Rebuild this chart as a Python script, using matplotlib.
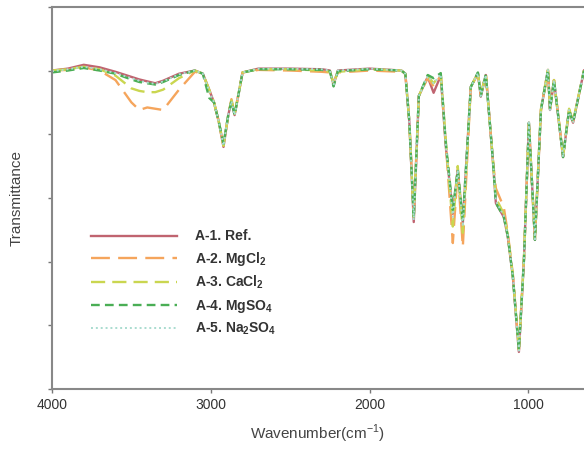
import matplotlib
matplotlib.use('Agg')
import matplotlib.pyplot as plt

plt.rcParams['font.family'] = ['Liberation Sans', 'DejaVu Sans']
plt.rcParams['mathtext.fontset'] = 'custom'
plt.rcParams['mathtext.rm'] = 'Liberation Sans'
plt.rcParams['mathtext.bf'] = 'Liberation Sans:bold'

# wavenumbers (cm-1)
wn = [4000, 3900, 3800, 3700, 3600, 3500, 3450, 3400, 3350, 3300, 3200, 3100,
      3050, 3010, 2980, 2950, 2920, 2890, 2870, 2850, 2820, 2800, 2700, 2500,
      2300, 2250, 2227, 2200, 2000, 1800, 1775, 1750, 1722, 1690, 1634, 1597,
      1552, 1520, 1476, 1445, 1413, 1363, 1318, 1300, 1268, 1224, 1205, 1155,
      1130, 1098, 1060, 1028, 997, 959, 921, 877, 864, 839, 782, 744, 719, 650]

ref = [5.0, 5.03, 5.09, 5.05, 4.98, 4.9, 4.86, 4.83, 4.8, 4.84, 4.95, 5.0,
       4.95, 4.7, 4.5, 4.2, 3.8, 4.3, 4.52, 4.3, 4.7, 4.97, 5.03, 5.03,
       5.02, 5.0, 4.78, 5.0, 5.03, 5.0, 4.95, 4.2, 2.62, 4.6, 4.9, 4.65,
       4.92, 3.8, 2.75, 3.44, 2.6, 4.74, 4.96, 4.59, 4.93, 3.6, 2.92, 2.7,
       2.39, 1.76, 0.58, 2.03, 4.18, 2.34, 4.38, 5.01, 4.38, 4.85, 3.64, 4.38, 4.18, 5.0]

mgcl2 = [5.0, 5.01, 5.05, 5.0, 4.85, 4.5, 4.38, 4.42, 4.4, 4.38, 4.7, 4.98,
         4.95, 4.68, 4.5, 4.2, 3.82, 4.3, 4.55, 4.32, 4.7, 4.97, 5.01, 5.0,
         4.98, 4.97, 4.8, 4.97, 5.0, 4.98, 4.95, 4.2, 2.75, 4.6, 4.88, 4.75,
         4.92, 3.85, 2.29, 3.44, 2.23, 4.74, 4.95, 4.62, 4.95, 3.6, 3.15, 2.85,
         2.45, 1.8, 0.62, 2.05, 4.15, 2.34, 4.38, 5.0, 4.4, 4.85, 3.66, 4.38, 4.2, 5.0]

cacl2 = [5.0, 5.02, 5.06, 5.02, 4.92, 4.72, 4.68, 4.66, 4.66, 4.7, 4.88, 5.0,
         4.95, 4.7, 4.5, 4.2, 3.82, 4.3, 4.53, 4.32, 4.7, 4.97, 5.02, 5.02,
         5.0, 4.98, 4.8, 4.98, 5.02, 5.0, 4.95, 4.2, 2.7, 4.6, 4.92, 4.8,
         4.95, 3.9, 2.55, 3.5, 2.45, 4.74, 4.97, 4.62, 4.94, 3.6, 3.0, 2.75,
         2.42, 1.78, 0.62, 2.05, 4.18, 2.36, 4.4, 5.01, 4.4, 4.85, 3.65, 4.4, 4.2, 5.0]

mgso4 = [4.97, 5.0, 5.04, 5.0, 4.95, 4.86, 4.82, 4.8, 4.78, 4.82, 4.93, 5.0,
         4.95, 4.57, 4.5, 4.2, 3.85, 4.3, 4.52, 4.3, 4.7, 4.97, 5.02, 5.02,
         5.01, 4.99, 4.75, 4.99, 5.02, 5.0, 4.95, 4.2, 2.68, 4.6, 4.93, 4.88,
         4.96, 3.85, 2.81, 3.44, 2.65, 4.74, 4.97, 4.6, 4.94, 3.6, 2.92, 2.7,
         2.4, 1.76, 0.6, 2.03, 4.18, 2.34, 4.38, 5.01, 4.38, 4.85, 3.64, 4.38, 4.18, 5.0]

na2so4 = [4.99, 5.02, 5.06, 5.02, 4.96, 4.88, 4.84, 4.81, 4.79, 4.83, 4.94, 5.0,
          4.95, 4.68, 4.5, 4.2, 3.82, 4.3, 4.52, 4.3, 4.7, 4.97, 5.03, 5.03,
          5.02, 5.0, 4.77, 5.0, 5.03, 5.0, 4.95, 4.2, 2.65, 4.6, 4.91, 4.8,
          4.94, 3.82, 2.7, 3.44, 2.55, 4.74, 4.96, 4.6, 4.93, 3.6, 2.95, 2.72,
          2.4, 1.77, 0.6, 2.03, 4.18, 2.35, 4.38, 5.01, 4.38, 4.85, 3.64, 4.38, 4.18, 5.0]

fig = plt.figure(figsize=(5.84, 4.58), dpi=100)
ax = fig.add_axes([0.089, 0.151, 0.911, 0.834])

ax.plot(wn, ref, color='#c06470', lw=1.7, label='A-1. Ref.')
ax.plot(wn, mgcl2, color='#f5a55c', lw=1.7, dashes=(8, 3.5), label='A-2. MgCl$_\\mathbf{2}$')
ax.plot(wn, cacl2, color='#cad650', lw=1.7, dashes=(6, 3), label='A-3. CaCl$_\\mathbf{2}$')
ax.plot(wn, mgso4, color='#4aae55', lw=1.7, dashes=(3.7, 2.2), label='A-4. MgSO$_\\mathbf{4}$')
ax.plot(wn, na2so4, color='#a9dccf', lw=1.4, dashes=(1, 1.5), label='A-5. Na$_\\mathbf{2}$SO$_\\mathbf{4}$')

ax.set_xlim(4000, 650)
ax.set_ylim(0, 6)
ax.set_xticks([4000, 3000, 2000, 1000])
ax.set_yticks([0, 1, 2, 3, 4, 5, 6])
ax.set_yticklabels([])
ax.tick_params(direction='out', length=3, width=1, color='#777777',
               labelsize=10, labelcolor='#333333')
for s in ['left', 'bottom', 'top']:
    ax.spines[s].set_color('#888888')
    ax.spines[s].set_linewidth(1.5)
ax.spines['right'].set_visible(False)

ax.set_xlabel('Wavenumber(cm$^{-1}$)', fontsize=11, color='#444444', labelpad=8)
ax.set_ylabel('Transmittance', fontsize=11, color='#444444', labelpad=14)

leg = ax.legend(loc='upper left', bbox_to_anchor=(0.05, 0.45), frameon=False,
                handlelength=6.2, handletextpad=1.3, labelspacing=0.45,
                prop={'weight': 'bold', 'size': 10})
for t in leg.get_texts():
    t.set_color('#333333')

fig.savefig('out.png', dpi=100)
